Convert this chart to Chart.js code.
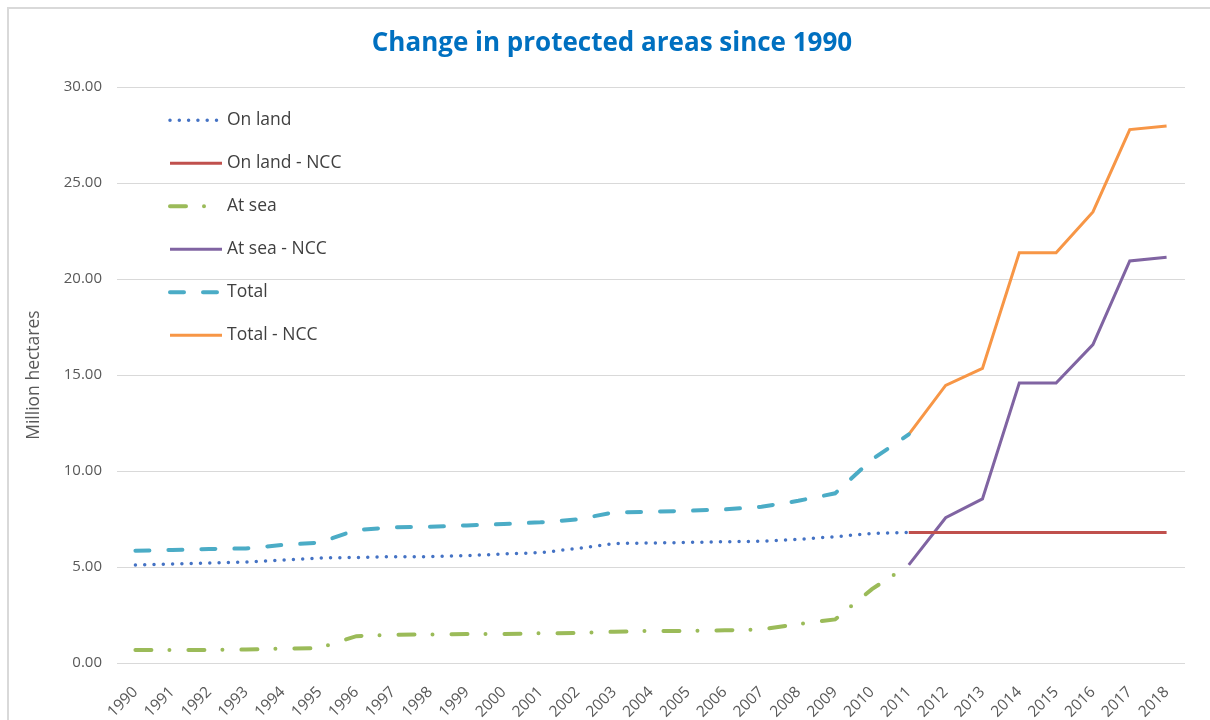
<!DOCTYPE html>
<html>
<head>
<meta charset="utf-8">
<script src="https://cdn.jsdelivr.net/npm/chart.js@4"></script>
<style>
html, body { margin: 0; padding: 0; background: #fff; }
#wrap { position: relative; width: 1210px; height: 720px; overflow: hidden; }
#frame { position: absolute; left: 7px; top: 7px; width: 1300px; height: 800px;
         border-left: 2px solid #d9d9d9; border-top: 2px solid #d9d9d9; pointer-events: none; }
canvas { position: absolute; left: 0; top: 0; }
</style>
</head>
<body>
<div id="wrap">
  <canvas id="areasChart" width="1210" height="720"></canvas>
  <div id="frame"></div>
</div>
<script>
const years = ['1990','1991','1992','1993','1994','1995','1996','1997','1998','1999',
               '2000','2001','2002','2003','2004','2005','2006','2007','2008','2009',
               '2010','2011','2012','2013','2014','2015','2016','2017','2018'];

const onLand = [5.10, 5.16, 5.21, 5.26, 5.36, 5.47, 5.50, 5.54, 5.54, 5.59,
                5.68, 5.75, 5.97, 6.23, 6.25, 6.28, 6.32, 6.34, 6.44, 6.58,
                6.75, 6.80, null, null, null, null, null, null, null];
const onLandNcc = [null, null, null, null, null, null, null, null, null, null,
                   null, null, null, null, null, null, null, null, null, null,
                   null, 6.80, 6.80, 6.80, 6.80, 6.80, 6.80, 6.80, 6.80];
const atSea = [0.68, 0.68, 0.68, 0.70, 0.75, 0.78, 1.40, 1.47, 1.49, 1.51,
               1.51, 1.55, 1.56, 1.63, 1.67, 1.67, 1.70, 1.75, 2.03, 2.27,
               3.85, 5.10, null, null, null, null, null, null, null];
const atSeaNcc = [null, null, null, null, null, null, null, null, null, null,
                  null, null, null, null, null, null, null, null, null, null,
                  null, 5.11, 7.57, 8.55, 14.59, 14.59, 16.59, 20.95, 21.14];
const total = [5.85, 5.89, 5.94, 5.97, 6.15, 6.27, 6.93, 7.07, 7.10, 7.17,
               7.24, 7.33, 7.48, 7.85, 7.88, 7.93, 8.00, 8.14, 8.45, 8.84,
               10.60, 11.91, null, null, null, null, null, null, null];
const totalNcc = [null, null, null, null, null, null, null, null, null, null,
                  null, null, null, null, null, null, null, null, null, null,
                  null, 11.91, 14.46, 15.35, 21.37, 21.37, 23.50, 27.79, 27.98];

const yTicks = [0, 5, 10, 15, 20, 25, 30];

// legend drawn inside the plot, top left, one entry per row
const insideLegend = {
  id: 'insideLegend',
  afterDraw(chart) {
    const ctx = chart.ctx;
    const x0 = chart.chartArea.left + 53;
    const y0 = chart.chartArea.top + 33;
    chart.data.datasets.forEach((ds, i) => {
      const y = y0 + i * 43;
      ctx.save();
      ctx.strokeStyle = ds.borderColor;
      ctx.lineWidth = ds.borderWidth;
      ctx.lineCap = ds.borderCapStyle || 'butt';
      ctx.setLineDash(ds.borderDash || []);
      ctx.beginPath();
      ctx.moveTo(x0, y);
      ctx.lineTo(x0 + 52, y);
      ctx.stroke();
      ctx.setLineDash([]);
      ctx.fillStyle = '#404040';
      ctx.font = '17.5px "Open Sans"';
      ctx.textBaseline = 'middle';
      ctx.fillText(ds.label, x0 + 57, y);
      ctx.restore();
    });
  }
};

function line(label, data, color, width, dash, cap) {
  return {
    label: label,
    data: data,
    borderColor: color,
    backgroundColor: color,
    borderWidth: width,
    borderDash: dash,
    borderCapStyle: cap,
    pointRadius: 0,
    tension: 0,
    fill: false
  };
}

new Chart(document.getElementById('areasChart'), {
  type: 'line',
  data: {
    labels: years,
    datasets: [
      line('On land', onLand, '#4472C4', 3.5, [0, 9.3], 'round'),
      line('On land - NCC', onLandNcc, '#C0504D', 3, [], 'butt'),
      line('At sea', atSea, '#9BBB59', 4, [16, 18, 0, 19], 'round'),
      line('At sea - NCC', atSeaNcc, '#8064A2', 3, [], 'butt'),
      line('Total', total, '#4BACC6', 4, [14, 19], 'round'),
      line('Total - NCC', totalNcc, '#F79646', 3, [], 'butt')
    ]
  },
  options: {
    responsive: false,
    animation: false,
    layout: { padding: { left: 39, right: 25, top: 0, bottom: 0 } },
    plugins: {
      legend: { display: false },
      tooltip: { enabled: false },
      title: {
        display: true,
        text: 'Change in protected areas since 1990',
        color: '#0070C0',
        font: { family: 'Open Sans', size: 26, weight: 'bold' },
        padding: { top: 28, bottom: 28 }
      }
    },
    scales: {
      x: {
        offset: true,
        grid: { display: false },
        border: { display: false },
        ticks: {
          color: '#595959',
          font: { family: 'Open Sans', size: 15.5 },
          minRotation: 45,
          maxRotation: 45,
          autoSkip: false,
          padding: 12
        },
        afterFit: (scale) => { scale.height = 57; }
      },
      y: {
        min: 0,
        max: 30,
        afterBuildTicks: (scale) => { scale.ticks = yTicks.map(v => ({ value: v })); },
        grid: { color: '#d9d9d9', lineWidth: 1, drawTicks: false },
        border: { display: false },
        ticks: {
          color: '#595959',
          font: { family: 'Open Sans', size: 15 },
          padding: 15,
          callback: (v) => Number(v).toFixed(2)
        },
        title: {
          display: true,
          text: 'Million hectares',
          color: '#595959',
          font: { family: 'Open Sans', size: 17.5 },
          padding: { top: -15, bottom: 0 }
        },
        afterFit: (scale) => { scale.width = 78; }
      }
    }
  },
  plugins: [insideLegend]
});
</script>
</body>
</html>
